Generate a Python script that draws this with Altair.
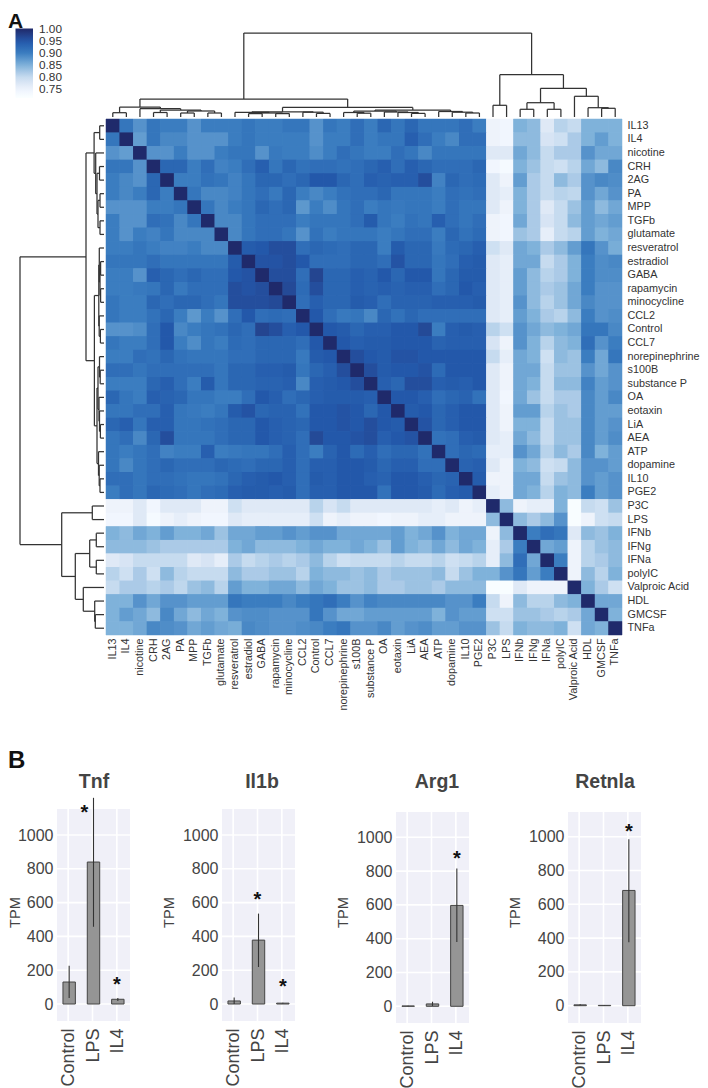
import altair as alt
import pandas as pd

LABELS = ["IL13","IL4","nicotine","CRH","2AG","PA","MPP","TGFb","glutamate","resveratrol","estradiol","GABA",
          "rapamycin","minocycline","CCL2","Control","CCL7","norepinephrine","s100B","substance P","OA","eotaxin",
          "LiA","AEA","ATP","dopamine","IL10","PGE2","P3C","LPS","IFNb","IFNg","IFNa","polyIC","Valproic Acid",
          "HDL","GMCSF","TNFa"]

# correlation x 100. Upper triangle of the first 28 rows
UPPER = [
 [91,88,91,90,90,88,90,90,90,91,90,90,91,91,88,91,90, 92,90,93,91,93,91,91,91,92,90],
 [87,91,89,89,88,88,88,90,91,90,90,90,90,88,90,90, 92,90,91,91,94,92,90,89,92,92],
 [88,88,90,88,88,90,91,91,88,90.5,90,90,88.5,90,92, 91,90,90,92,91,89,91,91,91,91],
 [93,93,90,92,89.5,90,92,94,91,93,91.5,92,92,91.5, 92,93,94,92,94,93,92,92,92,93],
 [90,90,91.5,91,89.5,91,93,93,92,93,95,95,93, 92,94,93.5,94,94,96,89.5,93,92,92.5],
 [91,89,89,89.5,91,92,90.5,93,90,89,90,91.5, 92,92,93,91,91,91,90,92,91.5,92],
 [91,89,90,91,93,92,93,87.5,90,88.5,91, 92,90,91,90.5,91,91,90,92,91,91],
 [89,89,91,92,92,92,90,91,91,91, 92,94.5,91,90,91.5,91,94,92,91,92],
 [89,91,92,92,91,88,91.5,90,91, 91,91,90,91,92,92,90,93,91.5,92.5],
 [94.5,95,96,96,92,93,92.5,92, 93,93,90,94.5,93,93,90.5,92.5,93,94],
 [95.5,95.5,96,95,92,92,92, 93,93,92,95.5,93,93,91,92,94,94.5],
 [96,96,92,97,93,93, 94,93.5,95,93,95,95,91,93,94.5,94.5],
 [96.5,92.5,96,93,93, 94,93.5,94,93.5,94,94,92,93,95,94],
 [92,94,93,93, 94.5,94,92,93.5,93.5,93.5,94,94,94,94.5],
 [95,92,90.5, 91,89,93,91.5,93,92,92,92,92,92],
 [95,94.5, 93,94,94,95,95,96.5,90,94,94.5,94],
 [95, 94,94.5,94.5,95,95,95,93.5,94,94,94],
 [96,95,94.5,95.5,95.5,95,95,95,95,95],
 [96,94.5,95,95,95.5,92.5,95,95,95],
 [94,93,96,96,94,94.5,94,95],
 [95,95,94,92,93,93.5,91.5],
 [94.5,95,93,94,95,95],
 [95.5,93,94,95,95],
 [91.5,92,94,94.5],
 [92,93,92.5],
 [93.5,94],
 [94.5],
]
# the last ten rows, from the first column up to the diagonal
LOWER = [
 [75,75,77,74,77,77,77,75,75,79,77,77,77,77,77,81,78,80,77,77,77,77,77,77,76,77,75,76],
 [74,74,77,73,75,76,75,74,74,77,76,76,76,76,76,79,75,76,75,75,74,75,75,76,76,75,75,75,84],
 [85,84,86,85,87,85,85,86,83,86,86,87,87,88,87,88,88,86,86,86,86,87,85,86,88,85,86,86,75,84],
 [84,84,84,83,82,82,82,82,82,85,86,84,84,84,85,86,85,85,86,85,83,87,85,84,86,84,86,85,76,82,90],
 [77,78,80,80,80,80,77,78,76,82,80,81,82,81,82,84,81,79,80,80,80,81,80,80,81,79,80,81,76,84,92,86],
 [81,79,82,79,84,81,80,80,80,84,82,82,83,83,81,85,84,84,83,84,82,83,83,83,84,80,83,85,85,88,91,87,90],
 [80,82,82,81,82,80.5,83,84,81,87,85,85,86,86,84,86,85,83,83,84,82,82,83,83,82,84,84,84,72,72,77,75,75,75],
 [85,85,88,86,88,88,87,87,87,91,90,90,90,89,90,91,92,90,88,89.5,89,89,89,89,89,88,88,90,80,75,84,81,81,84,85],
 [85,87,86,84,89,86,84,86,85,88,88.5,88.5,88,88,88,91,88,86,86,87,87,87,87,87,85,88,87,87,79,79,83,83,82,81,82,86],
 [85,85,86,89,88.5,88,86,87,86,85.5,89,88.5,88,88,88.5,89,90,91,88,88,89,87,88,88.5,87,87,88,88,83,80,85,84,84,85,79,86,85],
]

# clustering tree: (merge height, child, child); a leaf is a label
TREE = (84,
  (18,
    (9.9,
      (4.3, "IL13", "IL4"),
      (8.3, "nicotine",
        (7, (4.5, "CRH", "2AG"),
            (6, (4, "PA", "MPP"), (4, "TGFb", "glutamate"))))),
    (9.6,
      (5.2,
        (4.7, "resveratrol", (4, (3.4, "estradiol", "GABA"), (3.4, "rapamycin", "minocycline"))),
        (4.8, "CCL2", (3.6, "Control", "CCL7"))),
      (7,
        (6,
          (4.5, "norepinephrine", (3.8, "s100B", "substance P")),
          (5, "OA", (4.5, "eotaxin", (3.6, "LiA", "AEA")))),
        (5.5, "ATP", (4.8, "dopamine", (4, "IL10", "PGE2")))))),
  (42.3,
    (11.7, "P3C", "LPS"),
    (28.7,
      (14.3, (7.7, "IFNb", "IFNg"), (7.7, "IFNa", "polyIC")),
      (20.7, "Valproic Acid", (9.3, "HDL", (8.7, "GMCSF", "TNFa"))))))

GROUPS = ["Control", "LPS", "IL4"]
TICKS = [0, 200, 400, 600, 800, 1000]
GENES = ["Tnf", "Il1b", "Arg1", "Retnla"]
MEANS = {"Tnf": [130, 840, 28], "Il1b": [18, 378, 5], "Arg1": [2, 14, 597], "Retnla": [5, 2, 682]}
LOWS = {"Tnf": [36, 457, 18], "Il1b": [0, 219, 3], "Arg1": [1, 2, 380], "Retnla": [2, 1, 375]}
HIGHS = {"Tnf": [227, 1220, 36], "Il1b": [38, 535, 7], "Arg1": [3, 27, 815], "Retnla": [8, 3, 985]}
# asterisks: group, height on the TPM axis, sideways shift
STARS = {"Tnf": [("LPS", 1160, -9), ("IL4", 140, -1)],
         "Il1b": [("LPS", 645, -1), ("IL4", 130, 0)],
         "Arg1": [("IL4", 900, 0)],
         "Retnla": [("IL4", 1060, 0)]}

W, H = 692, 1080
PAD = 8
DARK = "#333333"
SANS = "Liberation Sans"

# ---- matrix
n = len(LABELS)
M = [[100.0] * n for _ in range(n)]
for r, row in enumerate(UPPER):
    for j, v in enumerate(row):
        M[r][r + 1 + j] = M[r + 1 + j][r] = v
for i, row in enumerate(LOWER):
    r = 28 + i
    for k, v in enumerate(row):
        M[r][k] = M[k][r] = v
cells = pd.DataFrame([{"row": LABELS[i], "col": LABELS[j], "v": M[i][j] / 100} for i in range(n) for j in range(n)])

# ---- dendrogram segments
segs = []
def walk(node):
    if isinstance(node, str):
        return LABELS.index(node) + 0.5, 0.0
    h, a, b = node
    ca, ha = walk(a)
    cb, hb = walk(b)
    segs.append({"c0": ca, "h0": ha, "c1": ca, "h1": h})
    segs.append({"c0": cb, "h0": hb, "c1": cb, "h1": h})
    segs.append({"c0": ca, "h0": h, "c1": cb, "h1": h})
    return (ca + cb) / 2, h
walk(TREE)
seg = pd.DataFrame(segs)

HX0, HX1, HY0, HY1 = 106 - PAD, 622 - PAD, 119 - PAD, 635 - PAD
color_scale = alt.Scale(domain=[0.713, 0.75, 0.80, 0.85, 0.90, 0.95, 1.0, 1.002],
                        range=["#ffffff", "#eef3fb", "#c6dbef", "#7fb2da", "#3b7dc0", "#2358aa", "#1f2a6b", "#1f2a6b"])

# under-layer with a thin matching stroke hides the seams between cells; it carries the axes
heat_under = alt.Chart(cells).mark_rect(strokeWidth=0.5).encode(
    x=alt.X("col:N", title=None, sort=None,
            scale=alt.Scale(domain=LABELS, range=[HX0, HX1], padding=0),
            axis=alt.Axis(orient="bottom", offset=-(H - HY1), domain=False, ticks=False, labelAngle=270,
                          labelAlign="right", labelBaseline="middle", labelFont=SANS, labelFontSize=10.8,
                          labelColor=DARK, labelPadding=3, labelOverlap=False, labelLimit=200)),
    y=alt.Y("row:N", title=None, sort=None,
            scale=alt.Scale(domain=LABELS, range=[HY0, HY1], padding=0),
            axis=alt.Axis(orient="right", offset=-(W - HX1), domain=False, ticks=False, labelFont=SANS,
                          labelFontSize=10.8, labelColor=DARK, labelPadding=5, labelOverlap=False, labelLimit=200)),
    color=alt.Color("v:Q", scale=color_scale, legend=None),
    stroke=alt.Stroke("v:Q", scale=color_scale, legend=None),
)
heat = alt.Chart(cells).mark_rect().encode(
    x=alt.X("col:N", axis=None, sort=None, scale=alt.Scale(domain=LABELS, range=[HX0, HX1], padding=0)),
    y=alt.Y("row:N", axis=None, sort=None, scale=alt.Scale(domain=LABELS, range=[HY0, HY1], padding=0)),
    color=alt.Color("v:Q", scale=color_scale,
                    legend=alt.Legend(type="gradient", direction="vertical", orient="none",
                                      legendX=15.5 - PAD, legendY=28.5 - PAD, title=None,
                                      gradientLength=69.5, gradientThickness=17.5,
                                      values=[0.75, 0.8, 0.85, 0.9, 0.95, 1.0],
                                      format=".2f", labelFont=SANS, labelFontSize=11.8, labelColor=DARK,
                                      labelOffset=6, gradientStrokeWidth=0, labelOverlap=False,
                                      labelBaseline="middle")),
)

line = dict(color=DARK, strokeWidth=1.25)
top_dendro = alt.Chart(seg).mark_rule(**line).encode(
    x=alt.X("c0:Q", axis=None, scale=alt.Scale(domain=[0, 38], range=[HX0, HX1], nice=False, zero=False)),
    x2="c1:Q",
    y=alt.Y("h0:Q", axis=None, scale=alt.Scale(domain=[0, 84], range=[117 - PAD, 33 - PAD], nice=False, zero=False)),
    y2="h1:Q",
)
left_dendro = alt.Chart(seg).mark_rule(**line).encode(
    x=alt.X("h0:Q", axis=None, scale=alt.Scale(domain=[0, 84], range=[104 - PAD, 20 - PAD], nice=False, zero=False)),
    x2="h1:Q",
    y=alt.Y("c0:Q", axis=None, scale=alt.Scale(domain=[0, 38], range=[HY0, HY1], nice=False, zero=False)),
    y2="c1:Q",
)

def letter(t, x, y, size):
    return alt.Chart(pd.DataFrame({"t": [t]})).mark_text(
        font=SANS, fontSize=size, fontWeight="bold", color="#111111", align="left", baseline="alphabetic"
    ).encode(x=alt.value(x), y=alt.value(y), text="t:N")

# page positions of each small panel: left, right, top, bottom, y of 0, y of 1000, title centre x, axis title offset
GEOM = {
    "Tnf": (57, 130, 809, 1021, 1004, 835, 94, -35),
    "Il1b": (222, 295, 809, 1021, 1004, 835, 262, -46),
    "Arg1": (396, 469, 812, 1023, 1006.3, 837.3, 437, -46),
    "Retnla": (568, 641, 812, 1023, 1005.7, 836.7, 605, -46),
}

def panel(g):
    l, r, t, b, y0, y1, tc, tx = GEOM[g]
    k = (y0 - y1) / 1000
    ymin, ymax = (y0 - b) / k, (y0 - t) / k
    ys = alt.Scale(domain=[0, 1000], range=[y0 - PAD, y1 - PAD], nice=False, zero=False)
    xb = alt.Scale(domain=GROUPS, range=[l - PAD, r - PAD], padding=0)
    xq = alt.Scale(domain=[0, 3], range=[l - PAD, r - PAD], nice=False, zero=False)
    xs = lambda: alt.X("g:N", axis=None, sort=None, scale=xb)
    bg = alt.Chart(pd.DataFrame({"a": [0], "b": [3], "c": [ymin], "d": [ymax]})).mark_rect(color="#f0f0f8").encode(
        x=alt.X("a:Q", axis=None, scale=xq), x2="b:Q", y=alt.Y("c:Q", axis=None, scale=ys), y2="d:Q")
    hg = alt.Chart(pd.DataFrame({"v": TICKS, "a": 0, "b": 3})).mark_rule(color="white", strokeWidth=1.6).encode(
        x=alt.X("a:Q", axis=None, scale=xq), x2="b:Q", y=alt.Y("v:Q", axis=None, scale=ys))
    vg = alt.Chart(pd.DataFrame({"g": GROUPS, "c": ymin, "d": ymax})).mark_rule(color="white", strokeWidth=1.6, xOffset=-1).encode(
        x=xs(), y=alt.Y("c:Q", axis=None, scale=ys), y2="d:Q")
    df = pd.DataFrame({"g": GROUPS, "m": MEANS[g], "lo": LOWS[g], "hi": HIGHS[g]})
    bars = alt.Chart(df).mark_bar(width=alt.RelativeBandSize(band=0.51), color="#959595", stroke="#444444", strokeWidth=1).encode(
        x=alt.X("g:N", sort=None, title=None, scale=xb,
                axis=alt.Axis(orient="bottom", offset=-(H - (b - PAD)), domain=False, ticks=False, grid=False, labelAngle=270,
                              labelAlign="right", labelBaseline="middle", labelFont=SANS, labelFontSize=18,
                              labelColor="#444444", labelPadding=7, labelOverlap=False)),
        y=alt.Y("m:Q", stack=None, scale=ys,
                axis=alt.Axis(orient="left", offset=-(l - PAD), values=TICKS, format="d", domain=False, ticks=False, grid=False,
                              title="TPM", titleFont=SANS, titleFontSize=14.6, titleFontWeight="normal", titleColor="#444444",
                              titleX=tx, titleY=912 - PAD, titleAnchor="middle", labelFont=SANS, labelFontSize=16,
                              labelColor="#444444", labelPadding=4)),
    )
    err = alt.Chart(df).mark_rule(color="#333333", strokeWidth=1.1).encode(
        x=xs(), y=alt.Y("lo:Q", axis=None, scale=ys), y2="hi:Q")
    layers = [bg, hg, vg, bars, err]
    for a, v, s in STARS[g]:
        layers.append(alt.Chart(pd.DataFrame({"p": [GROUPS.index(a) + 0.5], "v": [v]})).mark_text(
            text="*", font=SANS, fontSize=20, fontWeight="bold", color="#111111", dx=s, dy=5
        ).encode(x=alt.X("p:Q", axis=None, scale=xq), y=alt.Y("v:Q", axis=None, scale=ys)))
    layers.append(alt.Chart(pd.DataFrame({"t": [g]})).mark_text(
        font=SANS, fontSize=19.5, fontWeight="bold", color="#444444", baseline="middle"
    ).encode(x=alt.value(tc - PAD), y=alt.value(782 - PAD), text="t:N"))
    return layers

layers = [heat_under, heat, top_dendro, left_dendro, letter("A", 0, 19.5, 21), letter("B", 0, 760, 24)]
for g in GENES:
    layers += panel(g)

chart = alt.layer(*layers).resolve_scale(
    x="independent", y="independent", color="independent", stroke="independent"
).resolve_axis(x="independent", y="independent").properties(
    width=W, height=H, padding=0, autosize=alt.AutoSizeParams(type="none")
).configure_view(stroke=None)

chart.save("out.html", embed_options={"renderer": "svg", "actions": False})
